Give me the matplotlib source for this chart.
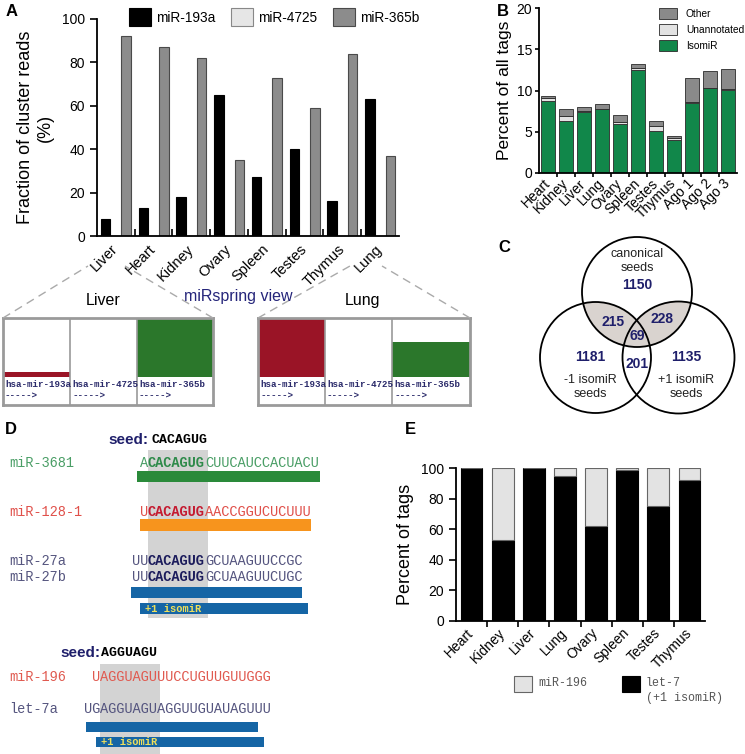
import matplotlib
matplotlib.use("Agg")
import matplotlib.pyplot as plt
from matplotlib.patches import Rectangle, Circle
from matplotlib.lines import Line2D
import numpy as np

plt.rcParams['font.family'] = ['Liberation Sans', 'DejaVu Sans']
MONO = ['Liberation Mono', 'DejaVu Sans Mono']

# ---- data ----
tissuesA = ['Liver', 'Heart', 'Kidney', 'Ovary', 'Spleen', 'Testes', 'Thymus', 'Lung']
mir193a = [8, 13, 18, 65, 27, 40, 16, 63]
mir4725 = [0, 0, 0, 0, 0, 0, 0, 0]
mir365b = [92, 87, 82, 35, 73, 59, 84, 37]

tissuesB = ['Heart', 'Kidney', 'Liver', 'Lung', 'Ovary', 'Spleen', 'Testes', 'Thymus',
            'Ago 1', 'Ago 2', 'Ago 3']
isomir = [8.7, 6.25, 7.45, 7.7, 5.95, 12.5, 5.15, 3.95, 8.45, 10.3, 10.1]
unannot = [0.45, 0.7, 0.05, 0.1, 0.2, 0.2, 0.5, 0.25, 0.1, 0.05, 0.05]
other = [0.2, 0.8, 0.45, 0.6, 0.85, 0.5, 0.6, 0.3, 2.95, 2.05, 2.45]

venn_labels = ['1150', '215', '228', '69', '1181', '201', '1135']

namesD = ['miR-3681', 'miR-128-1', 'miR-27a', 'miR-27b', 'miR-196', 'let-7a']
seqsD = ['ACACAGUGCUUCAUCCACUACU', 'UCACAGUGAACCGGUCUCUUU', 'UUCACAGUGGCUAAGUUCCGC',
         'UUCACAGUGGCUAAGUUCUGC', 'UAGGUAGUUUCCUGUUGUUGGG', 'UGAGGUAGUAGGUUGUAUAGUUU']
seedIdxD = [1, 1, 2, 2, 1, 2]

tissuesE = ['Heart', 'Kidney', 'Liver', 'Lung', 'Ovary', 'Spleen', 'Testes', 'Thymus']
let7 = [100, 53, 100, 95, 62, 99, 75, 92]
mir196 = [0, 47, 0, 5, 38, 1, 25, 8]

W, H = 745, 754
fig = plt.figure(figsize=(W / 100, H / 100), dpi=100)
fig.patch.set_facecolor('white')


def add_ax(x0, y0, x1, y1):
	return fig.add_axes([x0 / W, 1 - y1 / H, (x1 - x0) / W, (y1 - y0) / H])


def style(ax):
	for s in ['top', 'right']:
		ax.spines[s].set_visible(False)
	for s in ['left', 'bottom']:
		ax.spines[s].set_linewidth(1.3)
	ax.tick_params(axis='y', direction='out', length=5, width=1.2, labelsize=10)
	ax.tick_params(axis='x', which='major', length=0, labelsize=10)
	ax.tick_params(axis='x', which='minor', direction='in', length=5, width=1.2)


def plabel(x, y, s):
	fig.text(x / W, 1 - y / H, s, fontsize=12, fontweight='bold', ha='left', va='center')


# ---- panel A ----
axA = add_ax(97, 19, 399, 236)
x = np.arange(len(tissuesA))
axA.bar(x + 0.23, mir193a, 0.25, color='black', edgecolor='black', lw=0.8, label='miR-193a')
axA.bar(x + 0.5, mir4725, 0.25, color='#e6e6e6', edgecolor='#888888', lw=0.8, label='miR-4725')
axA.bar(x + 0.77, mir365b, 0.25, color='#8c8c8c', edgecolor='#4a4a4a', lw=0.8, label='miR-365b')
axA.set_xlim(0, len(tissuesA))
axA.set_ylim(0, 100)
style(axA)
axA.set_yticks(range(0, 101, 20))
axA.set_xticks(x + 0.5)
axA.set_xticks(np.arange(1, len(tissuesA)), minor=True)
axA.set_xticklabels(tissuesA, rotation=45, ha='right', va='center', rotation_mode='anchor', fontsize=10.5)
axA.tick_params(axis='x', pad=8)
axA.set_ylabel('Fraction of cluster reads\n(%)', fontsize=13, labelpad=6)
axA.legend(ncol=3, frameon=False, fontsize=9.8, handlelength=1.62, handleheight=1.62,
           handletextpad=0.38, columnspacing=1.15, borderpad=0, borderaxespad=0,
           loc='lower left', bbox_to_anchor=(129 / W, 1 - 26 / H), bbox_transform=fig.transFigure)

# dashed zoom lines
for (xa, ya, xb, yb) in [(3, 318, 88, 266), (213, 318, 125, 266), (258, 318, 350, 266), (470, 318, 382, 266)]:
	fig.add_artist(Line2D([xa / W, xb / W], [1 - ya / H, 1 - yb / H], color='#aaaaaa', lw=1,
	                      dashes=(6, 4), transform=fig.transFigure))

fig.text(103 / W, 1 - 301 / H, 'Liver', fontsize=11.5, ha='center', va='center')
fig.text(362 / W, 1 - 301 / H, 'Lung', fontsize=11.5, ha='center', va='center')
fig.text(238 / W, 1 - 296 / H, 'miRspring view', fontsize=11.5, ha='center', va='center', color='#25257a')

# miRspring boxes
springNames = ['hsa-mir-193a', 'hsa-mir-4725', 'hsa-mir-365b']
springCols = ['#9a1426', 'white', '#2b772b']
for tissue, (bx0, bx1), edges in [('Liver', (3, 213), [0, 67, 134, 210]),
                                  ('Lung', (258, 470), [0, 67, 134, 212])]:
	i = tissuesA.index(tissue)
	vals = [mir193a[i], mir4725[i], mir365b[i]]
	mx = max(vals)
	ax = add_ax(bx0, 318, bx1, 405)
	lefts = edges[:-1]
	widths = [edges[k + 1] - edges[k] for k in range(3)]
	ax.bar(lefts, [v / mx for v in vals], widths, align='edge', color=springCols, lw=0)
	ax.set_xlim(0, edges[-1])
	ax.set_ylim(-0.475, 1.0)
	ax.set_xticks([])
	ax.set_yticks([])
	for s in ax.spines.values():
		s.set_color('#9a9a9a')
		s.set_linewidth(2)
	for e in edges[1:-1]:
		ax.axvline(e, color='#9a9a9a', lw=1.2)
	for k in range(3):
		ax.text(lefts[k] + 2, -0.135, springNames[k], family=MONO, fontweight='bold', fontsize=6.6,
		        color='#2a2a6a', va='center', ha='left')
		ax.text(lefts[k] + 2, -0.32, '----->', family=MONO, fontweight='bold', fontsize=6.6,
		        color='#2a2a6a', va='center', ha='left')

# ---- panel B ----
axB = add_ax(539, 8, 737, 173)
xb = np.arange(len(tissuesB)) + 0.5
b1 = axB.bar(xb, isomir, 0.78, color='#11874a', edgecolor='#2a2a2a', lw=0.6, label='IsomiR')
bot = np.array(isomir)
b2 = axB.bar(xb, unannot, 0.78, bottom=bot, color='#e3e3e3', edgecolor='#2a2a2a', lw=0.6, label=' Unannotated')
bot = bot + np.array(unannot)
b3 = axB.bar(xb, other, 0.78, bottom=bot, color='#8a8a8a', edgecolor='#2a2a2a', lw=0.6, label='Other')
axB.set_xlim(0, len(tissuesB))
axB.set_ylim(0, 20)
style(axB)
axB.set_yticks([0, 5, 10, 15, 20])
axB.tick_params(axis='y', length=3, pad=2)
axB.set_xticks(xb)
axB.set_xticks(np.arange(1, len(tissuesB)), minor=True)
axB.set_xticklabels(tissuesB, rotation=45, ha='right', va='center', rotation_mode='anchor', fontsize=10)
axB.tick_params(axis='x', pad=6)
axB.tick_params(axis='x', which='minor', direction='out', length=3)
axB.set_ylabel('Percent of all tags', fontsize=12.5, labelpad=3)
axB.legend([b3, b2, b1], ['Other', 'Unannotated', 'IsomiR'], frameon=False, fontsize=7.3,
           handlelength=1.75, handleheight=1.35, handletextpad=0.9, labelspacing=0.45,
           borderpad=0, borderaxespad=0, loc='upper left',
           bbox_to_anchor=(659 / W, 1 - 8 / H), bbox_transform=fig.transFigure)

# ---- panel C ----
axC = add_ax(520, 225, 745, 425)
axC.set_xlim(520, 745)
axC.set_ylim(425, 225)
axC.axis('off')
circTop = (637, 292, 55)
circL = (595.5, 357.5, 55.5)
circR = (678.5, 357.5, 56)
for clipc in [circL, circR]:
	shade = Circle(circTop[:2], circTop[2], facecolor='#d9d3cf', edgecolor='none')
	axC.add_patch(shade)
	shade.set_clip_path(Circle(clipc[:2], clipc[2], transform=axC.transData))
for c in [circTop, circL, circR]:
	axC.add_patch(Circle(c[:2], c[2], fill=False, edgecolor='black', lw=1.3))
navy = '#1f1f6b'
vennPos = [(637, 285), (613, 322), (662, 319), (637, 336), (590, 357), (637, 364), (686, 357)]
for (vx, vy), s in zip(vennPos, venn_labels):
	axC.text(vx, vy, s, ha='center', va='center', fontsize=10, fontweight='bold', color=navy)
axC.text(637, 261, 'canonical\nseeds', ha='center', va='center', fontsize=9, linespacing=1.3, color='#222')
axC.text(590, 387, '-1 isomiR\nseeds', ha='center', va='center', fontsize=9, linespacing=1.3, color='#222')
axC.text(686, 387, '+1 isomiR\nseeds', ha='center', va='center', fontsize=9, linespacing=1.3, color='#222')

# ---- panel D ----
axD = add_ax(0, 425, 340, 754)
axD.set_xlim(0, 340)
axD.set_ylim(754, 425)
axD.axis('off')
CW = 8.2
FS = 9.84
seedCols = [148, 100]
axD.add_patch(Rectangle((148, 450), 7.3 * CW, 168, color='#d3d3d3', lw=0, zorder=0))
axD.add_patch(Rectangle((100, 664), 7.3 * CW, 90, color='#d3d3d3', lw=0, zorder=0))

axD.text(108, 440, 'seed:', fontsize=11, fontweight='bold', color=navy, va='center')
axD.text(152, 440, 'CACAGUG', family=MONO, fontsize=9.5, fontweight='bold', color='black', va='center')
axD.text(60, 653, 'seed:', fontsize=11, fontweight='bold', color=navy, va='center')
axD.text(101, 653, 'AGGUAGU', family=MONO, fontsize=9.5, fontweight='bold', color='black', va='center')

rowY = [463, 512, 561, 577, 677, 709]
rowGroup = [0, 0, 0, 0, 1, 1]
rowCol = ['#4a9e66', '#e0504a', '#55557f', '#55557f', '#e05a50', '#55557f']
rowSeedCol = ['#2e8a4a', '#c41a30', '#1c1c5c', '#1c1c5c', '#e05a50', '#55557f']
rowBold = [True, True, True, True, False, False]
for name, seq, si, y, g, col, scol, bold in zip(namesD, seqsD, seedIdxD, rowY, rowGroup,
                                                rowCol, rowSeedCol, rowBold):
	x0 = seedCols[g] - si * CW
	axD.text(9, y, name, family=MONO, fontsize=FS, color=col, va='center')
	axD.text(x0, y, seq[:si], family=MONO, fontsize=FS, color=col, va='center')
	axD.text(x0 + si * CW, y, seq[si:si + 7], family=MONO, fontsize=FS, color=scol, va='center',
	         fontweight='bold' if bold else 'normal')
	axD.text(x0 + (si + 7) * CW, y, seq[si + 7:], family=MONO, fontsize=FS, color=col, va='center')

# bars: (group, start, end in nt relative to seed start, y centre, height, colour, label)
barsD = [(0, -1.35, 21.0, 476.5, 11, '#2a8a3a', ''),
         (0, -1.0, 19.9, 525, 12, '#f7941d', ''),
         (0, -2.1, 18.8, 592.5, 11, '#1565a5', ''),
         (0, -1.0, 19.5, 608.5, 11, '#1565a5', '+1 isomiR'),
         (1, -1.7, 19.3, 727, 10, '#1565a5', ''),
         (1, -0.5, 20.0, 742, 10, '#1565a5', '+1 isomiR')]
for g, s0, s1, y, h, c, lab in barsD:
	left = seedCols[g] + s0 * CW
	axD.barh(y, (s1 - s0) * CW, h, left=left, color=c, lw=0)
	if lab:
		axD.text(left + 5, y, lab, family=MONO, fontsize=7.5, fontweight='bold', color='#efe05a', va='center')

# ---- panel E ----
axE = add_ax(456, 468, 705, 621)
xe = np.arange(len(tissuesE)) + 0.5
axE.bar(xe, let7, 0.7, color='black', edgecolor='black', lw=0.8)
axE.bar(xe, mir196, 0.7, bottom=let7, color='#e3e3e3', edgecolor='#666666', lw=0.8)
axE.set_xlim(0, len(tissuesE))
axE.set_ylim(0, 100)
style(axE)
axE.set_yticks(range(0, 101, 20))
axE.set_xticks(xe)
axE.set_xticks(np.arange(1, len(tissuesE)), minor=True)
axE.set_xticklabels(tissuesE, rotation=45, ha='right', va='center', rotation_mode='anchor', fontsize=10)
axE.tick_params(axis='x', pad=7)
axE.tick_params(axis='x', which='minor', direction='out', length=4)
axE.set_ylabel('Percent of tags', fontsize=13, labelpad=5)

for (lx, col, ec, txt) in [(514, '#e3e3e3', '#666666', 'miR-196'), (622, 'black', 'black', 'let-7\n(+1 isomiR)')]:
	fig.add_artist(Rectangle((lx / W, 1 - 692 / H), 18 / W, 16 / H, facecolor=col, edgecolor=ec,
	                         lw=0.8, transform=fig.transFigure))
	fig.text((lx + 24) / W, 1 - 677 / H, txt, family=MONO, fontsize=8.4, color='#555555',
	         ha='left', va='top', linespacing=1.35)

plabel(6, 12, 'A')
plabel(497, 11, 'B')
plabel(498, 247, 'C')
plabel(5, 429, 'D')
plabel(405, 429, 'E')

fig.savefig('out.png', dpi=100)
